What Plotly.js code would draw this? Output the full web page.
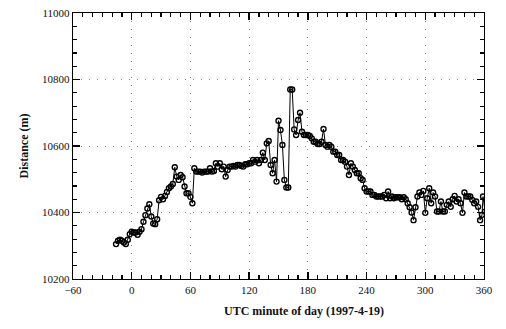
<!DOCTYPE html>
<html>
<head>
<meta charset="utf-8">
<script src="https://cdn.plot.ly/plotly-3.0.1.min.js"></script>
<style>html,body{margin:0;padding:0;background:#fff;}#chart{width:506px;height:329px;}</style>
</head>
<body>
<div id="chart"></div>
<script>
const minutes = [-16,-14,-12,-10,-8,-6,-4,-2,0,2,4,6,8,10,12,14,16,18,20,22,24,26,28,30,32,34,36,38,40,42,44,46,48,50,52,54,56,58,60,62,64,66,68,70,72,74,76,78,80,82,84,86,88,90,92,94,96,98,100,102,104,106,108,110,112,114,116,118,120,122,124,126,128,130,132,134,136,138,140,142,144,146,148,150,152,154,156,158,160,162,164,166,168,170,172,174,176,178,180,182,184,186,188,190,192,194,196,198,200,202,204,206,208,210,212,214,216,218,220,222,224,226,228,230,232,234,236,238,240,242,244,246,248,250,252,254,256,258,260,262,264,266,268,270,272,274,276,278,280,282,284,286,288,290,292,294,296,298,300,302,304,306,308,310,312,314,316,318,320,322,324,326,328,330,332,334,336,338,340,342,344,346,348,350,352,354,356,358,359,361];
const distance = [10305,10315,10318,10315,10310,10305,10318,10335,10342,10340,10340,10333,10342,10350,10372,10392,10412,10425,10388,10367,10365,10380,10437,10447,10440,10450,10462,10473,10478,10486,10536,10508,10498,10513,10506,10478,10458,10458,10447,10428,10533,10523,10523,10523,10520,10523,10523,10523,10533,10523,10525,10548,10538,10548,10530,10538,10508,10528,10538,10538,10540,10538,10543,10543,10540,10538,10545,10545,10548,10548,10558,10553,10558,10548,10558,10580,10558,10608,10615,10543,10518,10558,10493,10676,10648,10603,10498,10475,10475,10770,10770,10650,10633,10678,10700,10643,10633,10633,10633,10630,10623,10613,10613,10606,10606,10613,10651,10603,10598,10603,10598,10583,10583,10573,10573,10558,10558,10553,10538,10513,10548,10538,10528,10518,10518,10503,10498,10473,10463,10463,10463,10453,10453,10448,10448,10448,10448,10453,10443,10463,10443,10448,10443,10446,10446,10446,10440,10446,10440,10428,10416,10400,10377,10416,10448,10460,10453,10465,10399,10443,10473,10428,10460,10448,10403,10403,10433,10403,10403,10423,10433,10417,10440,10450,10433,10440,10428,10399,10460,10448,10448,10448,10438,10428,10433,10417,10377,10393,10448,10403];

const xRange = [-60, 360];
const yRange = [10200, 11000];

const fontFam = '"Liberation Serif", "Times New Roman", serif';

const trace = {
  x: minutes, y: distance, type: 'scatter', mode: 'lines+markers',
  line: {color: '#000', width: 1},
  marker: {symbol: 'circle-open', size: 5, color: '#000', line: {width: 1.4, color: '#000'}},
  hoverinfo: 'none'
};

const axisCommon = {
  showline: true, linecolor: '#000', linewidth: 1.3, mirror: 'ticks',
  ticks: 'inside', ticklen: 7, tickwidth: 1.3, tickcolor: '#000',
  showgrid: true, gridcolor: '#8a8a8a', gridwidth: 1, griddash: '1px,7px',
  zeroline: false, tickmode: 'linear', tickformat: 'd',
  tickfont: {family: fontFam, size: 11, color: '#111'}
};

const layout = {
  width: 506, height: 329,
  margin: {l: 72.5, r: 22, t: 13, b: 50},
  paper_bgcolor: '#fff', plot_bgcolor: '#fff',
  showlegend: false,
  xaxis: Object.assign({}, axisCommon, {
    range: xRange, tick0: 0, dtick: 60,
    minor: {ticks: 'inside', dtick: 10, tick0: 0, ticklen: 4, tickwidth: 1.2, tickcolor: '#000', showgrid: false}
  }),
  yaxis: Object.assign({}, axisCommon, {
    range: yRange, tick0: 10200, dtick: 200,
    minor: {ticks: 'inside', dtick: 40, tick0: 10200, ticklen: 4, tickwidth: 1.2, tickcolor: '#000', showgrid: false},
    title: {text: 'Distance (m)', font: {family: fontFam, size: 12, color: '#111', weight: 'bold'}, standoff: 10}
  }),
  annotations: [{
    text: 'UTC minute of day (1997-4-19)', xref: 'paper', yref: 'paper',
    x: (304 - 72.5) / (484 - 72.5), y: -0.085, xanchor: 'center', yanchor: 'top', showarrow: false,
    font: {family: fontFam, size: 12, color: '#111', weight: 'bold'}
  }]
};

Plotly.newPlot('chart', [trace], layout, {staticPlot: true, displayModeBar: false});
</script>
</body>
</html>
